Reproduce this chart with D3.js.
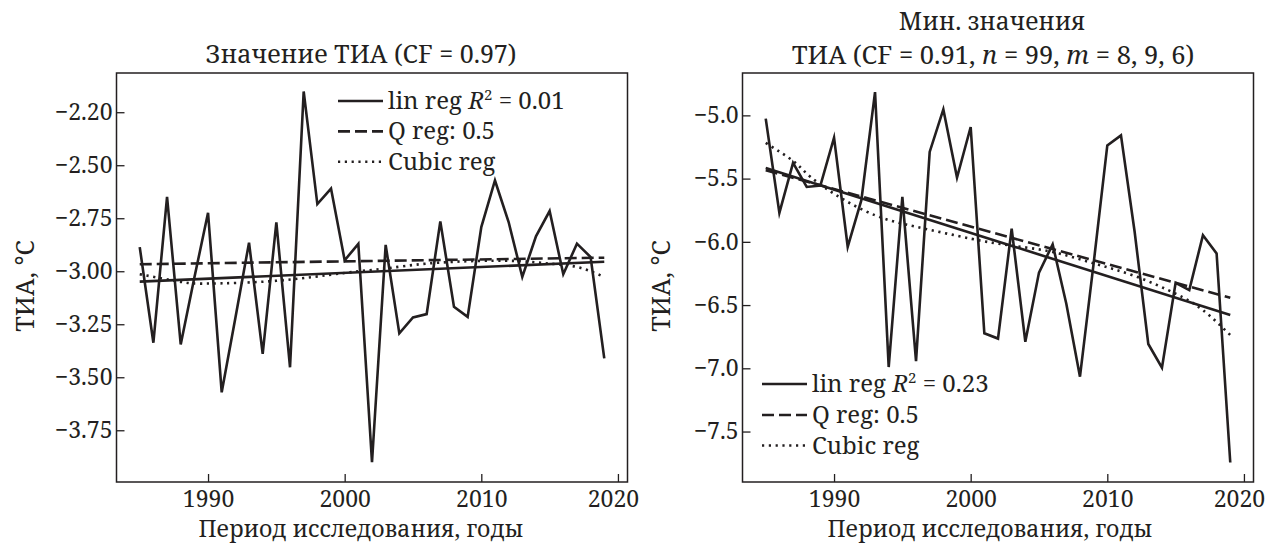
<!DOCTYPE html>
<html><head><meta charset="utf-8">
<script src="https://cdn.jsdelivr.net/npm/d3@7/dist/d3.min.js"></script>
<style>
html,body{margin:0;padding:0;background:#fff;}
svg text{font-family:"Noto Serif",serif;fill:#231f20;}
</style></head><body>
<svg id="chart" width="1268" height="544"></svg>
<script>
// ---------- data ----------
const years = [1985,1986,1987,1988,1989,1990,1991,1992,1993,1994,1995,1996,1997,1998,1999,
  2000,2001,2002,2003,2004,2005,2006,2007,2008,2009,2010,2011,2012,2013,2014,2015,2016,2017,2018,2019];
const meanValues = [-2.886,-3.337,-2.649,-3.345,-3.03,-2.724,-3.571,-3.22,-2.865,-3.39,-2.77,-3.453,-2.152,-2.683,-2.61,
  -2.948,-2.871,-3.901,-2.876,-3.293,-3.218,-3.202,-2.765,-3.168,-3.215,-2.792,-2.572,-2.768,-3.027,-2.835,-2.716,-3.014,-2.87,-2.933,-3.411];
const minValues = [-5.026,-5.771,-5.376,-5.566,-5.555,-5.176,-6.039,-5.671,-4.816,-6.99,-5.645,-6.943,-5.289,-4.953,-5.492,
  -5.092,-6.723,-6.765,-5.895,-6.79,-6.243,-6.02,-6.49,-7.066,-6.17,-5.237,-5.158,-5.92,-6.808,-6.995,-6.324,-6.382,-5.947,-6.092,-7.745];

const regYears = [1985, 2019];
const meanLinReg = [-3.049, -2.955];
const meanQReg = [-2.967, -2.936];
const meanCubicYears = [1985,1988,1990,1995,2000,2003,2006,2010,2013,2015,2017,2019];
const meanCubic = [-3.014,-3.05,-3.058,-3.045,-3.008,-2.987,-2.964,-2.951,-2.953,-2.964,-2.98,-3.027];

const minLinReg = [-5.416, -6.579];
const minQReg = [-5.434, -6.443];
const minCubicYears = [1985,1987,1988,1990,1993,1996,2000,2003,2006,2009,2012,2015,2017,2019];
const minCubic = [-5.218,-5.36,-5.46,-5.62,-5.79,-5.88,-5.975,-6.03,-6.08,-6.17,-6.27,-6.41,-6.54,-6.737];

const xTicks = [1990, 2000, 2010, 2020];
const meanYTicks = [-2.25,-2.5,-2.75,-3,-3.25,-3.5,-3.75];
const meanYTickLabels = ["\u22122.20","\u22122.50","\u22122.75","\u22123.00","\u22123.25","\u22123.50","\u22123.75"];
const minYTicks = [-5,-5.5,-6,-6.5,-7,-7.5];
const minYTickLabels = ["\u22125.0","\u22125.5","\u22126.0","\u22126.5","\u22127.0","\u22127.5"];

const xTitle = "Период исследования, годы";
const yTitle = "ТИА, °С";
const legendLabels = ["lin reg", "Q reg: 0.5", "Cubic reg"];

// ---------- drawing ----------
const INK = "#231f20";
const FONT = '"Noto Serif",serif';
const svg = d3.select("#chart");

function panel(cfg) {
  const x = d3.scaleLinear().domain([1983.3, 2020.7]).range([cfg.left, cfg.right]);
  const y = d3.scaleLinear().domain(cfg.yDomain).range([cfg.bottom, cfg.top]);
  const g = svg.append("g");

  const ya = g.append("g").attr("transform", `translate(${cfg.left},0)`)
    .call(d3.axisLeft(y).tickValues(cfg.yTicks).tickSize(-8).tickPadding(4)
      .tickFormat((d, i) => cfg.yLabels[i]));
  ya.attr("font-family", null).attr("font-size", null);
  ya.select(".domain").remove();
  ya.selectAll("line").attr("stroke", INK).attr("stroke-width", 1.3);
  ya.selectAll("text").attr("font-size", 23).style("font-family", FONT).attr("fill", INK);

  const xa = g.append("g").attr("transform", `translate(0,${cfg.bottom})`)
    .call(d3.axisBottom(x).tickValues(xTicks).tickSize(-8).tickPadding(9).tickFormat(d3.format("d")));
  xa.attr("font-family", null).attr("font-size", null);
  xa.select(".domain").remove();
  xa.selectAll("line").attr("stroke", INK).attr("stroke-width", 1.3);
  xa.selectAll("text").attr("font-size", 23).style("font-family", FONT).attr("fill", INK)
    .attr("dx", d => d === 2020 ? -5 : 0);

  g.append("rect").attr("x", cfg.left).attr("y", cfg.top)
    .attr("width", cfg.right - cfg.left).attr("height", cfg.bottom - cfg.top)
    .attr("fill", "none").attr("stroke", INK).attr("stroke-width", 1.5);

  const line = d3.line().x(d => x(d[0])).y(d => y(d[1]));
  const cubic = d3.line().x(d => x(d[0])).y(d => y(d[1])).curve(d3.curveNatural);

  g.append("path").datum(cfg.cubicYears.map((yr, i) => [yr, cfg.cubic[i]]))
    .attr("d", cubic).attr("fill", "none").attr("stroke", INK).attr("stroke-width", 2.6)
    .attr("stroke-dasharray", "2.2,4.6");
  g.append("path").datum(regYears.map((yr, i) => [yr, cfg.qreg[i]]))
    .attr("d", line).attr("fill", "none").attr("stroke", INK).attr("stroke-width", 2.6)
    .attr("stroke-dasharray", "12,5");
  g.append("path").datum(regYears.map((yr, i) => [yr, cfg.linreg[i]]))
    .attr("d", line).attr("fill", "none").attr("stroke", INK).attr("stroke-width", 2.6);

  g.append("path").datum(years.map((yr, i) => [yr, cfg.values[i]]))
    .attr("d", line).attr("fill", "none").attr("stroke", INK).attr("stroke-width", 2.6)
    .attr("stroke-linejoin", "miter").attr("stroke-miterlimit", 6);

  const lg = g.append("g");
  const dashes = [null, "12,5", "2.2,4.6"];
  cfg.legendRows.forEach((ry, i) => {
    lg.append("line").attr("x1", cfg.legendX).attr("x2", cfg.legendX + 45)
      .attr("y1", ry).attr("y2", ry).attr("stroke", INK).attr("stroke-width", 2.6)
      .attr("stroke-dasharray", dashes[i]);
    const t = lg.append("text").attr("x", cfg.legendX + 50).attr("y", ry + 8).attr("font-size", 24);
    if (i === 0) {
      t.append("tspan").text(legendLabels[0] + " ");
      t.append("tspan").attr("font-style", "italic").text("R");
      t.append("tspan").attr("font-size", 15).attr("dy", -9).text("2");
      t.append("tspan").attr("dy", 9).text(" = " + cfg.r2);
    } else {
      t.text(legendLabels[i]);
    }
  });

  g.append("text").attr("x", cfg.titleX).attr("y", 537).attr("text-anchor", "middle")
    .attr("font-size", 23).text(xTitle);
  g.append("text").attr("transform", `translate(${cfg.yTitleX},286) rotate(-90)`)
    .attr("text-anchor", "middle").attr("font-size", 25).text(yTitle);

  return g;
}

const gL = panel({
  left: 116.5, right: 627.5, top: 73, bottom: 482,
  yDomain: [-3.994, -2.065], yTicks: meanYTicks, yLabels: meanYTickLabels,
  values: meanValues, linreg: meanLinReg, qreg: meanQReg,
  cubicYears: meanCubicYears, cubic: meanCubic,
  legendX: 338, legendRows: [101, 131.4, 161.8], r2: "0.01",
  titleX: 361, yTitleX: 34
});
gL.append("text").attr("x", 361).attr("y", 63).attr("text-anchor", "middle")
  .attr("font-size", 25).text("Значение ТИА (CF = 0.97)");

const gR = panel({
  left: 742.5, right: 1253.5, top: 73, bottom: 482,
  yDomain: [-7.899, -4.665], yTicks: minYTicks, yLabels: minYTickLabels,
  values: minValues, linreg: minLinReg, qreg: minQReg,
  cubicYears: minCubicYears, cubic: minCubic,
  legendX: 762, legendRows: [384, 415, 445.5], r2: "0.23",
  titleX: 990, yTitleX: 670
});
gR.append("text").attr("x", 992).attr("y", 30).attr("text-anchor", "middle")
  .attr("font-size", 24.5).text("Мин. значения");
const t2 = gR.append("text").attr("x", 993).attr("y", 64).attr("text-anchor", "middle").attr("font-size", 25.5);
t2.append("tspan").text("ТИА (CF = 0.91, ");
t2.append("tspan").attr("font-style", "italic").text("n");
t2.append("tspan").text(" = 99, ");
t2.append("tspan").attr("font-style", "italic").text("m");
t2.append("tspan").text(" = 8, 9, 6)");
</script>
</body></html>
